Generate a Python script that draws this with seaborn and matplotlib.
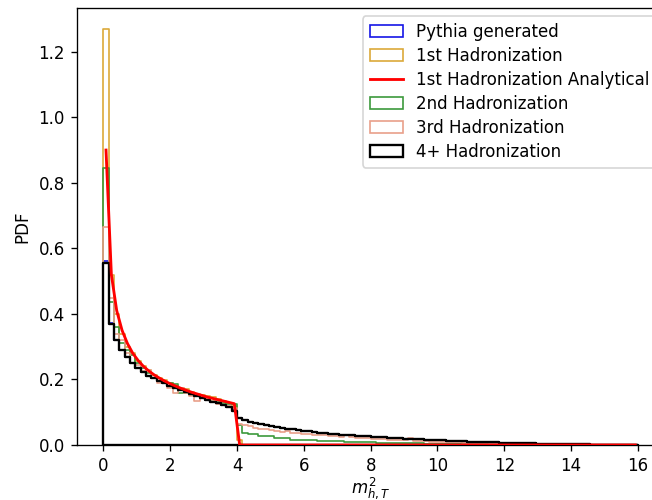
import numpy as np
import pandas as pd
import matplotlib
matplotlib.use("Agg")
import matplotlib.pyplot as plt
import seaborn as sns

# ---- data -------------------------------------------------------------
bin_edges = np.linspace(0.0, 16.0, 101)

pythia = [
    0.562, 0.372, 0.321, 0.291, 0.270, 0.251, 0.236, 0.223, 0.212, 0.203,
    0.195, 0.188, 0.181, 0.174, 0.167, 0.161, 0.155, 0.149, 0.144, 0.138,
    0.132, 0.127, 0.121, 0.115, 0.106, 0.083, 0.076, 0.071, 0.067, 0.064,
    0.061, 0.058, 0.055, 0.053, 0.050, 0.048, 0.046, 0.044, 0.042, 0.040,
    0.038, 0.036, 0.035, 0.033, 0.032, 0.030, 0.029, 0.028, 0.027, 0.026,
    0.025, 0.024, 0.023, 0.022, 0.021, 0.020, 0.019, 0.018, 0.017, 0.017,
    0.016, 0.015, 0.014, 0.014, 0.013, 0.012, 0.012, 0.011, 0.010, 0.010,
    0.009, 0.009, 0.008, 0.008, 0.007, 0.007, 0.006, 0.006, 0.005, 0.005,
    0.005, 0.004, 0.004, 0.004, 0.003, 0.003, 0.003, 0.002, 0.002, 0.002,
    0.002, 0.001, 0.001, 0.001, 0.001, 0.001, 0.001, 0.0005, 0.0005, 0.0003,
]

had1 = [
    1.270, 0.520, 0.400, 0.340, 0.300, 0.280, 0.255, 0.240, 0.228, 0.215,
    0.205, 0.197, 0.190, 0.180, 0.175, 0.170, 0.163, 0.157, 0.152, 0.150,
    0.147, 0.140, 0.135, 0.128, 0.120, 0.015, 0.0, 0.0, 0.0, 0.0,
    0.0, 0.0, 0.0, 0.0, 0.0, 0.0, 0.0, 0.0, 0.0, 0.0,
    0.0, 0.0, 0.0, 0.0, 0.0, 0.0, 0.0, 0.0, 0.0, 0.0,
    0.0, 0.0, 0.0, 0.0, 0.0, 0.0, 0.0, 0.0, 0.0, 0.0,
    0.0, 0.0, 0.0, 0.0, 0.0, 0.0, 0.0, 0.0, 0.0, 0.0,
    0.0, 0.0, 0.0, 0.0, 0.0, 0.0, 0.0, 0.0, 0.0, 0.0,
    0.0, 0.0, 0.0, 0.0, 0.0, 0.0, 0.0, 0.0, 0.0, 0.0,
    0.0, 0.0, 0.0, 0.0, 0.0, 0.0, 0.0, 0.0, 0.0, 0.0,
]

had1_analytical = [
    0.900, 0.520, 0.410, 0.350, 0.310, 0.280, 0.258, 0.240, 0.226, 0.214,
    0.204, 0.195, 0.187, 0.180, 0.173, 0.167, 0.161, 0.156, 0.151, 0.146,
    0.142, 0.138, 0.134, 0.130, 0.126, 0.0, 0.0, 0.0, 0.0, 0.0,
    0.0, 0.0, 0.0, 0.0, 0.0, 0.0, 0.0, 0.0, 0.0, 0.0,
    0.0, 0.0, 0.0, 0.0, 0.0, 0.0, 0.0, 0.0, 0.0, 0.0,
    0.0, 0.0, 0.0, 0.0, 0.0, 0.0, 0.0, 0.0, 0.0, 0.0,
    0.0, 0.0, 0.0, 0.0, 0.0, 0.0, 0.0, 0.0, 0.0, 0.0,
    0.0, 0.0, 0.0, 0.0, 0.0, 0.0, 0.0, 0.0, 0.0, 0.0,
    0.0, 0.0, 0.0, 0.0, 0.0, 0.0, 0.0, 0.0, 0.0, 0.0,
    0.0, 0.0, 0.0, 0.0, 0.0, 0.0, 0.0, 0.0, 0.0, 0.0,
]

had2 = [
    0.845, 0.435, 0.360, 0.310, 0.290, 0.275, 0.250, 0.235, 0.220, 0.205,
    0.195, 0.190, 0.190, 0.185, 0.158, 0.158, 0.152, 0.148, 0.143, 0.138,
    0.133, 0.130, 0.127, 0.125, 0.124, 0.062, 0.036, 0.035, 0.034, 0.028,
    0.028, 0.027, 0.022, 0.022, 0.021, 0.016, 0.016, 0.015, 0.015, 0.014,
    0.013, 0.013, 0.012, 0.011, 0.011, 0.010, 0.010, 0.009, 0.009, 0.008,
    0.008, 0.007, 0.007, 0.007, 0.006, 0.006, 0.006, 0.005, 0.005, 0.005,
    0.004, 0.004, 0.004, 0.003, 0.003, 0.003, 0.003, 0.002, 0.002, 0.002,
    0.002, 0.002, 0.001, 0.001, 0.001, 0.001, 0.001, 0.001, 0.001, 0.0005,
    0.0005, 0.0005, 0.0, 0.0, 0.0, 0.0, 0.0, 0.0, 0.0, 0.0,
    0.0, 0.0, 0.0, 0.0, 0.0, 0.0, 0.0, 0.0, 0.0, 0.0,
]

had3 = [
    0.665, 0.450, 0.340, 0.320, 0.280, 0.250, 0.245, 0.225, 0.230, 0.205,
    0.190, 0.190, 0.175, 0.160, 0.175, 0.160, 0.150, 0.135, 0.145, 0.140,
    0.135, 0.125, 0.122, 0.118, 0.112, 0.065, 0.060, 0.058, 0.052, 0.050,
    0.048, 0.046, 0.043, 0.040, 0.042, 0.038, 0.036, 0.034, 0.033, 0.031,
    0.030, 0.029, 0.027, 0.026, 0.025, 0.031, 0.023, 0.022, 0.021, 0.020,
    0.019, 0.018, 0.017, 0.016, 0.016, 0.015, 0.014, 0.020, 0.012, 0.012,
    0.011, 0.010, 0.010, 0.009, 0.009, 0.008, 0.008, 0.007, 0.007, 0.006,
    0.007, 0.006, 0.005, 0.005, 0.005, 0.004, 0.004, 0.006, 0.003, 0.003,
    0.003, 0.002, 0.002, 0.002, 0.002, 0.001, 0.001, 0.001, 0.001, 0.001,
    0.001, 0.0005, 0.0005, 0.0005, 0.0005, 0.0003, 0.0003, 0.0002, 0.0002, 0.0001,
]

had4plus = [
    0.555, 0.370, 0.320, 0.290, 0.270, 0.250, 0.235, 0.222, 0.212, 0.203,
    0.195, 0.188, 0.181, 0.174, 0.167, 0.161, 0.155, 0.149, 0.144, 0.138,
    0.132, 0.127, 0.121, 0.115, 0.105, 0.082, 0.075, 0.071, 0.067, 0.064,
    0.061, 0.058, 0.055, 0.053, 0.050, 0.048, 0.046, 0.044, 0.042, 0.040,
    0.038, 0.036, 0.035, 0.033, 0.032, 0.030, 0.029, 0.028, 0.027, 0.026,
    0.025, 0.024, 0.023, 0.022, 0.021, 0.020, 0.019, 0.018, 0.017, 0.017,
    0.016, 0.015, 0.014, 0.014, 0.013, 0.012, 0.012, 0.011, 0.010, 0.010,
    0.009, 0.009, 0.008, 0.008, 0.007, 0.007, 0.006, 0.006, 0.005, 0.005,
    0.005, 0.004, 0.004, 0.004, 0.003, 0.003, 0.003, 0.002, 0.002, 0.002,
    0.002, 0.001, 0.001, 0.001, 0.001, 0.001, 0.001, 0.0005, 0.0005, 0.0003,
]

# ---- plot -------------------------------------------------------------
bin_centers = 0.5 * (bin_edges[:-1] + bin_edges[1:])
bin_list = bin_edges.tolist()

DPI = 120
fig = plt.figure(figsize=(652 / DPI, 500 / DPI), dpi=DPI)
ax = fig.add_axes([0.1175, 0.110, 0.902, 0.874])

def step_hist(values, color, label, lw=1.0):
    df = pd.DataFrame({"x": bin_centers, "w": values})
    sns.histplot(data=df, x="x", weights="w", bins=bin_list, stat="count",
                 element="step", fill=True, color=color, facecolor="none",
                 linewidth=lw, label=label, ax=ax)

step_hist(pythia, "#1515e6", "Pythia generated")
step_hist(had1, "#dba93a", "1st Hadronization")
df_an = pd.DataFrame({"x": bin_centers, "y": had1_analytical})
sns.lineplot(data=df_an, x="x", y="y", color="red", linewidth=1.7,
             label="1st Hadronization Analytical", ax=ax, zorder=3)
step_hist(had2, "#3c9a3c", "2nd Hadronization")
step_hist(had3, "#e9a08a", "3rd Hadronization")
step_hist(had4plus, "black", "4+ Hadronization", lw=1.4)

ax.set_xlim(-0.8, 16.8)
ax.set_ylim(0, 1.3335)
ax.set_xticks([0, 2, 4, 6, 8, 10, 12, 14, 16])
ax.set_yticks([0.0, 0.2, 0.4, 0.6, 0.8, 1.0, 1.2])
ax.set_xlabel(r"$m^2_{h,T}$", fontsize=10, labelpad=0.5)
ax.set_ylabel("PDF", fontsize=10)
ax.legend(loc="upper right", fontsize=10, labelspacing=0.36)

fig.savefig("out.png", dpi=DPI)
